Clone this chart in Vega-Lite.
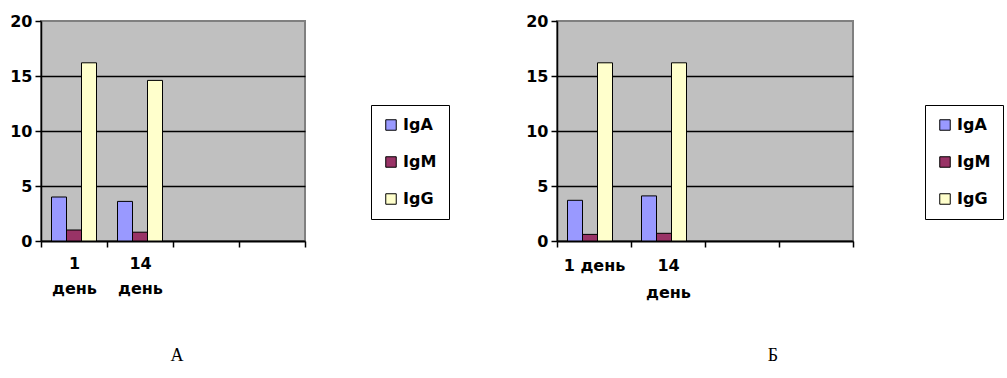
{
  "$schema": "https://vega.github.io/schema/vega-lite/v6.json",
  "padding": {"left": 8, "top": 12, "right": 5, "bottom": 5},
  "background": "white",
  "datasets": {
    "a": [
      {"day": "c1", "ig": "IgA", "value": 4.0},
      {"day": "c1", "ig": "IgM", "value": 1.0},
      {"day": "c1", "ig": "IgG", "value": 16.2},
      {"day": "c2", "ig": "IgA", "value": 3.6},
      {"day": "c2", "ig": "IgM", "value": 0.8},
      {"day": "c2", "ig": "IgG", "value": 14.6}
    ],
    "b": [
      {"day": "c1", "ig": "IgA", "value": 3.7},
      {"day": "c1", "ig": "IgM", "value": 0.6},
      {"day": "c1", "ig": "IgG", "value": 16.2},
      {"day": "c2", "ig": "IgA", "value": 4.1},
      {"day": "c2", "ig": "IgM", "value": 0.7},
      {"day": "c2", "ig": "IgG", "value": 16.2}
    ]
  },
  "config": {
    "view": {"fill": "#C0C0C0", "stroke": "#808080", "strokeWidth": 2},
    "axis": {
      "labelFont": "DejaVu Sans", "labelFontWeight": "bold", "labelFontSize": 16, "labelColor": "black",
      "domainColor": "black", "domainWidth": 1.5, "tickColor": "black", "tickWidth": 1.5, "tickSize": 6,
      "title": null
    },
    "concat": {"spacing": 73}
  },
  "resolve": {"scale": {"color": "independent"}, "legend": {"color": "independent"}},
  "hconcat": [
    {
      "width": 264, "height": 220,
      "data": {"name": "a"},
      "title": {"text": "А", "orient": "bottom", "frame": "group", "anchor": "middle", "font": "Liberation Serif", "fontSize": 18, "fontWeight": "normal", "color": "black", "offset": 51, "dx": 4},
      "mark": {"type": "bar", "stroke": "black", "strokeWidth": 1},
      "encoding": {
        "x": {"field": "day", "type": "nominal",
              "scale": {"domain": ["c1", "c2", "c3", "c4"], "paddingInner": 0, "paddingOuter": 0},
              "axis": {"labelAngle": 0, "tickBand": "extent", "domainWidth": 2, "labelPadding": 8, "labelLineHeight": 25,
                       "labelExpr": "datum.value == 'c1' ? ['1', 'день'] : datum.value == 'c2' ? ['14', 'день'] : ''"}},
        "xOffset": {"field": "ig", "type": "nominal", "sort": ["IgA", "IgM", "IgG"],
                    "scale": {"paddingInner": 0, "paddingOuter": 0.7}},
        "y": {"field": "value", "type": "quantitative",
              "scale": {"domain": [0, 20], "nice": false},
              "axis": {"values": [0, 5, 10, 15, 20], "grid": true, "gridColor": "black", "gridWidth": 1.5,
                       "gridOpacity": {"condition": {"test": "datum.value == 0 || datum.value == 20", "value": 0}, "value": 1},
                       "labelPadding": 3}},
        "color": {"field": "ig", "type": "nominal",
                  "scale": {"domain": ["IgA", "IgM", "IgG"], "range": ["#9999FF", "#993366", "#FFFFCC"]},
                  "legend": {"title": null, "orient": "none", "legendX": 330, "legendY": 84,
                             "strokeColor": "black", "padding": 12, "rowPadding": 21,
                             "symbolType": "square", "symbolSize": 110, "symbolStrokeColor": "black", "symbolStrokeWidth": 1,
                             "labelFont": "DejaVu Sans", "labelFontWeight": "bold", "labelFontSize": 16, "labelColor": "black", "labelOffset": 4}}
      }
    },
    {
      "width": 296, "height": 220,
      "data": {"name": "b"},
      "title": {"text": "Б", "orient": "bottom", "frame": "group", "anchor": "middle", "font": "Liberation Serif", "fontSize": 18, "fontWeight": "normal", "color": "black", "offset": 47, "dx": 68},
      "mark": {"type": "bar", "stroke": "black", "strokeWidth": 1},
      "encoding": {
        "x": {"field": "day", "type": "nominal",
              "scale": {"domain": ["c1", "c2", "c3", "c4"], "paddingInner": 0, "paddingOuter": 0},
              "axis": {"labelAngle": 0, "tickBand": "extent", "domainWidth": 2, "labelPadding": 10, "labelLineHeight": 27,
                       "labelExpr": "datum.value == 'c1' ? '1 день' : datum.value == 'c2' ? ['14', 'день'] : ''"}},
        "xOffset": {"field": "ig", "type": "nominal", "sort": ["IgA", "IgM", "IgG"],
                    "scale": {"paddingInner": 0, "paddingOuter": 0.81}},
        "y": {"field": "value", "type": "quantitative",
              "scale": {"domain": [0, 20], "nice": false},
              "axis": {"values": [0, 5, 10, 15, 20], "grid": true, "gridColor": "black", "gridWidth": 1.5,
                       "gridOpacity": {"condition": {"test": "datum.value == 0 || datum.value == 20", "value": 0}, "value": 1},
                       "labelPadding": 3}},
        "color": {"field": "ig", "type": "nominal",
                  "scale": {"domain": ["IgA", "IgM", "IgG"], "range": ["#9999FF", "#993366", "#FFFFCC"]},
                  "legend": {"title": null, "orient": "none", "legendX": 368, "legendY": 84,
                             "strokeColor": "black", "padding": 12, "rowPadding": 21,
                             "symbolType": "square", "symbolSize": 110, "symbolStrokeColor": "black", "symbolStrokeWidth": 1,
                             "labelFont": "DejaVu Sans", "labelFontWeight": "bold", "labelFontSize": 16, "labelColor": "black", "labelOffset": 4}}
      }
    }
  ]
}
